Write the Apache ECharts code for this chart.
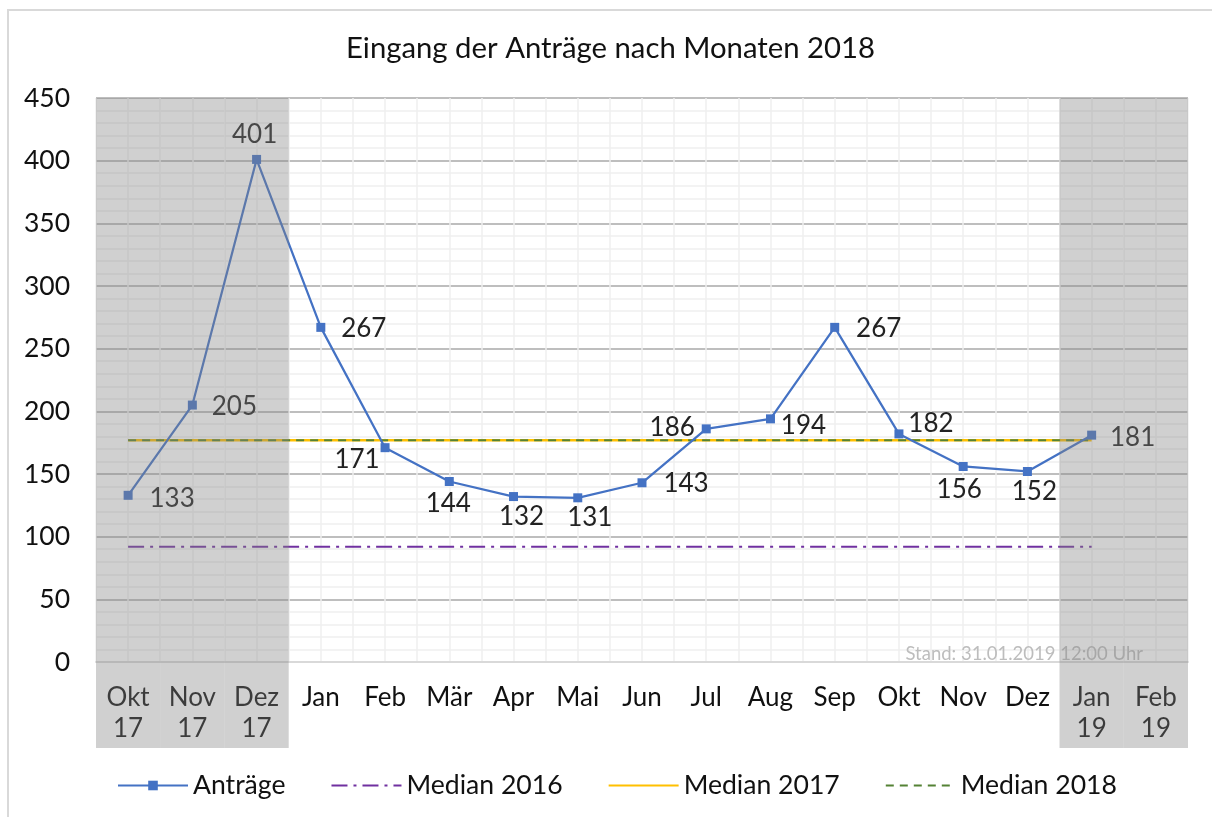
<!DOCTYPE html>
<html>
<head>
<meta charset="utf-8">
<script src="https://cdn.jsdelivr.net/npm/echarts@6/dist/echarts.min.js"></script>
<style>
html,body{margin:0;padding:0;background:#fff;overflow:hidden;}
#frame{position:absolute;left:7px;top:9px;width:1300px;height:900px;border:2px solid #d9d9d9;box-sizing:border-box;}
#chart{position:absolute;left:0;top:0;width:1212px;height:817px;}
</style>
</head>
<body>
<div id="frame"></div>
<div id="chart"></div>
<script>
const categories = ['Okt\n17','Nov\n17','Dez\n17','Jan','Feb','Mär','Apr','Mai','Jun','Jul','Aug','Sep','Okt','Nov','Dez','Jan\n19','Feb\n19'];
const antraege = [133,205,401,267,171,144,132,131,143,186,194,267,182,156,152,181,null];
const median2016 = [92,92,92,92,92,92,92,92,92,92,92,92,92,92,92,92,null];
const median2017 = [177,177,177,177,177,177,177,177,177,177,177,177,177,177,177,177,null];
const median2018 = [177,177,177,177,177,177,177,177,177,177,177,177,177,177,177,177,null];
const shaded = [1,1,1,0,0,0,0,0,0,0,0,0,0,0,0,1,1];

// label offsets (styling) per point, relative to the marker centre
const labelOffsets = [[44,3],[42,2],[-2,-25],[43,1],[-28,12],[-1,22],[8,20],[12,20],[44,1],[-34,-1],[33,7],[44,1],[32,-10],[-4,23],[7,20],[41,2],[0,0]];

const FONT = 'Lato, "Open Sans", "DejaVu Sans", sans-serif';
const chart = echarts.init(document.getElementById('chart'), null, {renderer:'canvas'});

const option = {
  backgroundColor: 'transparent',
  animation: false,
  title: [
    {text:'Eingang der Anträge nach Monaten 2018', left:341, top:29,
     textStyle:{fontFamily:FONT, fontSize:29.3, fontWeight:'normal', color:'#111'}},
    {text:'Stand: 31.01.2019 12:00 Uhr', right:64, top:640,
     textStyle:{fontFamily:FONT, fontSize:18.5, fontWeight:'normal', color:'#bdbdbd'}}
  ],
  legend: {
    data:[
      {name:'Anträge'},
      {name:'Median 2016', itemStyle:{opacity:0}},
      {name:'Median 2017', itemStyle:{opacity:0}},
      {name:'Median 2018', itemStyle:{opacity:0}}
    ],
    left:112, top:767, itemWidth:70, itemHeight:12, itemGap:45,
    textStyle:{fontFamily:FONT, fontSize:26.6, color:'#111'}
  },
  grid: [
    {left:96, right:24, top:98, bottom:155},
    {left:96, right:24, top:98, bottom:69}
  ],
  xAxis: [
    {type:'category', gridIndex:0, data:categories, boundaryGap:true, z:3,
     axisLine:{show:true, lineStyle:{color:'#d9d9d9', width:2}},
     axisTick:{show:false},
     axisLabel:{fontFamily:FONT, fontSize:26, color:'#111', margin:20, lineHeight:31, interval:0},
     splitLine:{show:false}},
    {type:'value', gridIndex:0, min:0, max:17, interval:0.5, show:true,
     axisLine:{show:false}, axisTick:{show:false}, axisLabel:{show:false},
     splitLine:{show:true, lineStyle:{color:'#efefef', width:1.5}}},
    {type:'category', gridIndex:1, data:categories, boundaryGap:true, show:false}
  ],
  yAxis: [
    {type:'value', gridIndex:0, min:0, max:450, interval:50,
     axisLine:{show:false}, axisTick:{show:false},
     axisLabel:{fontFamily:FONT, fontSize:26.5, color:'#111', margin:26},
     splitLine:{show:true, lineStyle:{color:'#a9a9a9', width:1.5}},
     minorTick:{show:false, splitNumber:5},
     minorSplitLine:{show:true, lineStyle:{color:'#efefef', width:1.5}}},
    {type:'value', gridIndex:1, min:0, max:1, show:false}
  ],
  series: [
    {name:'Median 2016', type:'line', xAxisIndex:0, yAxisIndex:0, data:median2016, symbol:'none', z:2,
     lineStyle:{color:'#7030a0', width:2, type:[16,6,3,6]}, itemStyle:{color:'#7030a0'}},
    {name:'Median 2017', type:'line', xAxisIndex:0, yAxisIndex:0, data:median2017, symbol:'none', z:2,
     lineStyle:{color:'#ffc000', width:2.5, type:'solid'}, itemStyle:{color:'#ffc000'}},
    {name:'Median 2018', type:'line', xAxisIndex:0, yAxisIndex:0, data:median2018, symbol:'none', z:2,
     lineStyle:{color:'#548235', width:2, type:[8,6]}, itemStyle:{color:'#548235'}},
    {name:'Anträge', type:'line', xAxisIndex:0, yAxisIndex:0, data:antraege,
     symbol:'rect', symbolSize:9, z:4,
     lineStyle:{color:'#4472c4', width:2.25}, itemStyle:{color:'#4472c4'},
     label:{show:true, position:'inside', fontFamily:FONT, fontSize:26, color:'#222'},
     labelLayout:function(p){ const o = labelOffsets[p.dataIndex] || [0,0]; return {dx:o[0], dy:o[1]}; }},
    {name:'shade', type:'bar', xAxisIndex:2, yAxisIndex:1, data:shaded, silent:true,
     barWidth:'100%', barGap:'0%', barCategoryGap:'0%', z:20,
     itemStyle:{color:'rgba(131,131,131,0.38)'}}
  ]
};
chart.setOption(option);
</script>
</body>
</html>
